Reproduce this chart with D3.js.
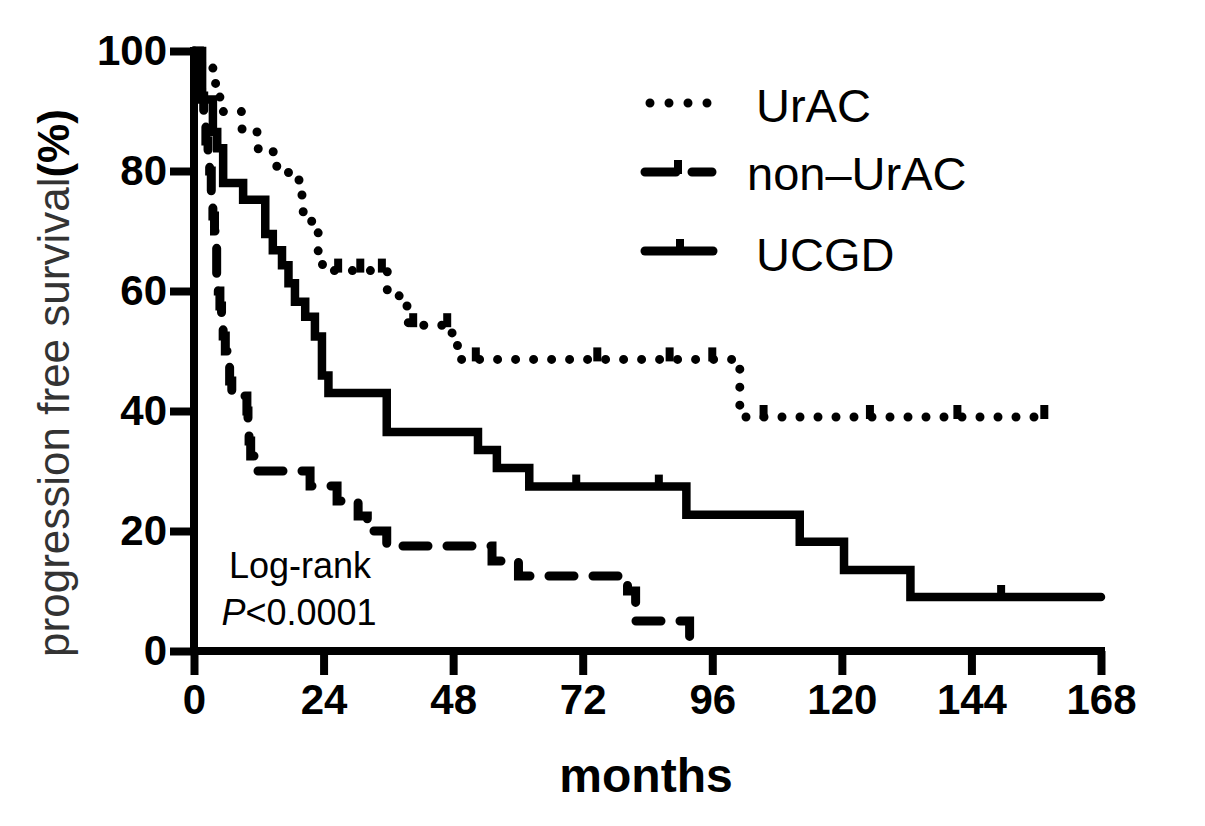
<!DOCTYPE html>
<html>
<head>
<meta charset="utf-8">
<script src="https://cdn.jsdelivr.net/npm/d3@7"></script>
<style>
  body { margin: 0; background: #fff; }
  svg { display: block; }
  text { font-family: "Liberation Sans", Arial, Helvetica, sans-serif; }
</style>
</head>
<body>
<svg width="1205" height="826"></svg>
<script>
const xTicks = [0, 24, 48, 72, 96, 120, 144, 168];
const yTicks = [0, 20, 40, 60, 80, 100];

// UrAC (dotted)
const uracTime = [0, 1.0, 3.5, 4.8, 8.9, 11.9, 15.0, 17.5, 20.0, 21.8, 23.0, 23.8, 35.8, 38.0, 39.7, 47.8, 48.8, 101.1, 157.5];
const uracSurv = [100, 97.3, 94.6, 89.9, 86.5, 83.2, 80.8, 78.5, 73.2, 70.3, 66.5, 63.4, 60.0, 57.5, 54.3, 51.4, 48.6, 39.0, 39.0];
const uracCensor = [26.7, 30.8, 34.8, 40.6, 46.9, 52.2, 74.7, 88.1, 96.0, 105.5, 125.2, 141.4, 157.5];

// non-UrAC (dashed)
const nonTime = [0, 1.0, 1.4, 1.8, 2.2, 2.6, 2.9, 3.2, 3.5, 3.8, 4.0, 4.2, 4.5, 4.8, 5.1, 5.4, 5.8, 6.2, 6.6, 7.0, 9.8, 10.0, 10.2, 10.5, 11.2, 21.5, 26.5, 30.4, 32.1, 35.7, 55.2, 60.1, 80.3, 81.8, 91.8];
const nonSurv = [100, 97.5, 92.5, 90, 85, 82.5, 80, 75, 72.5, 70, 67.5, 62.5, 60, 57.5, 55, 52.5, 50, 47.5, 45, 42.5, 40, 37.5, 35, 32.5, 30, 27.5, 25, 22.5, 20, 17.5, 15, 12.5, 10, 5, 0];
const nonCensor = [];

// UCGD (solid)
const ucgdTime = [0, 1.5, 3.5, 4.3, 5.4, 9.1, 13.2, 14.6, 16.3, 17.5, 18.7, 20.6, 22.4, 23.7, 24.9, 35.7, 52.6, 56.1, 62.1, 91.2, 112.2, 120.4, 132.7, 168];
const ucgdSurv = [100, 91.9, 86.5, 83.8, 78.0, 75.2, 69.5, 66.8, 64.3, 61.3, 58.2, 55.7, 52.4, 45.9, 43.0, 36.5, 33.5, 30.5, 27.4, 22.7, 18.2, 13.5, 9.0, 9.0];
const ucgdCensor = [70.8, 86.1, 149.5];

const groups = ["UrAC", "non\u2013UrAC", "UCGD"];

const svg = d3.select("svg");

const x = d3.scaleLinear().domain([0, 168]).range([194, 1101]);
const y = d3.scaleLinear().domain([0, 100]).range([651, 51]);

const styles = [
  { dash: "0 18", width: 9, cap: "round" },
  { dash: "25 19", width: 9, cap: "round" },
  { dash: null, width: 8.5, cap: "round" }
];

const series = [
  { name: groups[0], time: uracTime, surv: uracSurv, censor: uracCensor },
  { name: groups[1], time: nonTime, surv: nonSurv, censor: nonCensor },
  { name: groups[2], time: ucgdTime, surv: ucgdSurv, censor: ucgdCensor }
];

// survival value at time t (step function)
function survAt(s, t) {
  const i = d3.bisectRight(s.time, t) - 1;
  return s.surv[Math.max(0, i)];
}

// Axes
const yAxis = svg.append("g")
  .attr("transform", "translate(194,0)")
  .call(d3.axisLeft(y).tickValues(yTicks).tickSize(24).tickSizeOuter(0).tickPadding(3));
const xAxis = svg.append("g")
  .attr("transform", "translate(0,651)")
  .call(d3.axisBottom(x).tickValues(xTicks).tickSize(24).tickSizeOuter(0).tickPadding(9));

[yAxis, xAxis].forEach(function (g) {
  g.selectAll("path, line").attr("stroke", "#000").attr("stroke-width", 8);
  g.selectAll("text")
    .attr("fill", "#000")
    .style("font-size", "42px")
    .style("font-weight", "bold")
    .style("font-family", "'Liberation Sans', Arial, Helvetica, sans-serif");
});
yAxis.select(".domain").attr("d", "M0,47V655");
xAxis.select(".domain").attr("d", "M190,0H1105");

// Curves
const line = d3.line()
  .x(function (d) { return x(d[0]); })
  .y(function (d) { return y(d[1]); })
  .curve(d3.curveStepAfter);

series.forEach(function (s, k) {
  const st = styles[k];
  const pts = s.time.map(function (t, i) { return [t, s.surv[i]]; });
  svg.append("path")
    .datum(pts)
    .attr("d", line)
    .attr("fill", "none")
    .attr("stroke", "#000")
    .attr("stroke-width", st.width)
    .attr("stroke-linecap", st.cap)
    .attr("stroke-linejoin", "miter")
    .attr("stroke-dasharray", st.dash);

  // censor marks
  svg.append("g")
    .selectAll("line")
    .data(s.censor)
    .enter()
    .append("line")
    .attr("x1", function (d) { return x(d); })
    .attr("x2", function (d) { return x(d); })
    .attr("y1", function (d) { return y(survAt(s, d)) + 2; })
    .attr("y2", function (d) { return y(survAt(s, d)) - 12; })
    .attr("stroke", "#000")
    .attr("stroke-width", 8);
});

// Legend
const legendY = [103, 172, 251];
const legendTextY = [122, 190, 271];
series.forEach(function (s, k) {
  const g = svg.append("g");
  if (k === 0) {
    g.append("path")
      .attr("d", "M650," + legendY[k] + "H708")
      .attr("stroke", "#000")
      .attr("stroke-width", 9)
      .attr("stroke-linecap", "round")
      .attr("stroke-dasharray", "0 19");
  } else if (k === 1) {
    g.append("path")
      .attr("d", "M645," + legendY[k] + "H676M692," + legendY[k] + "H712")
      .attr("stroke", "#000")
      .attr("stroke-width", 9)
      .attr("stroke-linecap", "round");
    g.append("line")
      .attr("x1", 678).attr("x2", 678)
      .attr("y1", legendY[k] + 2).attr("y2", legendY[k] - 12)
      .attr("stroke", "#000").attr("stroke-width", 8);
  } else {
    g.append("path")
      .attr("d", "M645," + legendY[k] + "H713")
      .attr("stroke", "#000")
      .attr("stroke-width", 9)
      .attr("stroke-linecap", "round");
    g.append("line")
      .attr("x1", 680).attr("x2", 680)
      .attr("y1", legendY[k] + 2).attr("y2", legendY[k] - 12)
      .attr("stroke", "#000").attr("stroke-width", 8);
  }
  g.append("text")
    .attr("x", k === 1 ? 747 : 756)
    .attr("y", legendTextY[k])
    .style("font-size", "47px")
    .attr("fill", "#000")
    .text(s.name);
});

// Axis titles
svg.append("text")
  .attr("x", 646)
  .attr("y", 792)
  .attr("text-anchor", "middle")
  .style("font-size", "48px")
  .style("font-weight", "bold")
  .text("months");

const yTitle = svg.append("text")
  .attr("text-anchor", "middle")
  .attr("transform", "translate(69,383)rotate(-90)")
  .style("font-size", "44px");
yTitle.append("tspan").attr("fill", "#333").text("progression free survival");
yTitle.append("tspan").attr("fill", "#000").style("font-weight", "bold").text("(%)");

// Log-rank annotation
svg.append("text")
  .attr("x", 300)
  .attr("y", 578)
  .attr("text-anchor", "middle")
  .style("font-size", "36px")
  .text("Log-rank");
const pText = svg.append("text")
  .attr("x", 299)
  .attr("y", 625)
  .attr("text-anchor", "middle")
  .style("font-size", "36px");
pText.append("tspan").style("font-style", "italic").text("P");
pText.append("tspan").text("<0.0001");
</script>
</body>
</html>
